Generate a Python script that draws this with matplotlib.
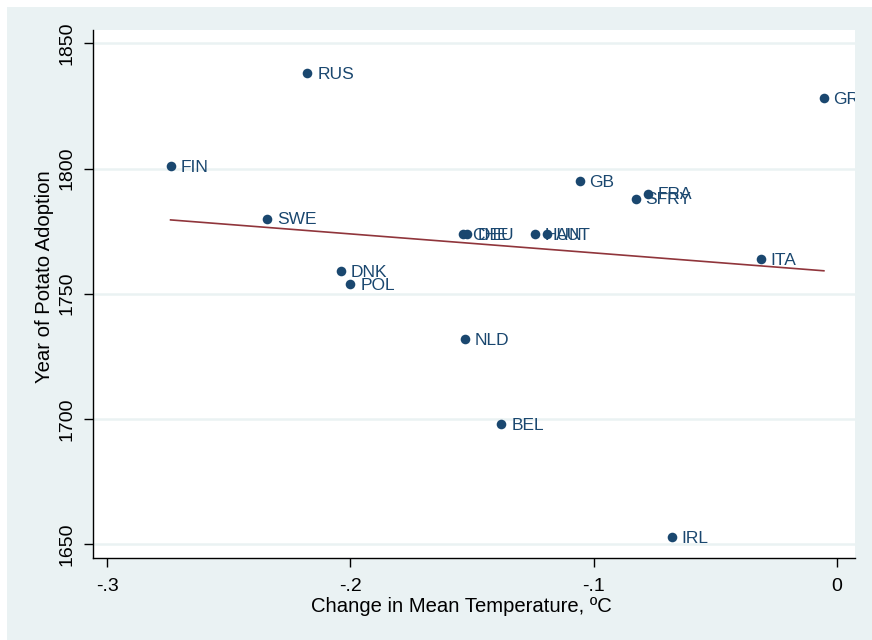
#!/usr/bin/env python3
"""
Potato adoption year vs change in mean temperature, by country.
"""

import numpy as np
import matplotlib
matplotlib.use("Agg")
import matplotlib.pyplot as plt
from matplotlib.patches import Rectangle

countries = ["RUS", "GRC", "FIN", "GB", "FRA", "SFRY", "SWE", "CHE", "DEU",
             "HUN", "AUT", "ITA", "DNK", "POL", "NLD", "BEL", "IRL"]
temp_change = [-0.2177, -0.0053, -0.2740, -0.1058, -0.0778, -0.0827, -0.2342,
               -0.1539, -0.1519, -0.1243, -0.1193, -0.0313, -0.2041, -0.2000,
               -0.1531, -0.1379, -0.0679]
adoption_year = [1838, 1828, 1801, 1795, 1790, 1788, 1780, 1774, 1774,
                 1774, 1774, 1764, 1759, 1754, 1732, 1698, 1653]

x_ticks = [-0.3, -0.2, -0.1, 0]
x_ticklabels = ["-.3", "-.2", "-.1", "0"]
y_ticks = [1650, 1700, 1750, 1800, 1850]

bg = "#EAF2F3"
navy = "#1A476F"
maroon = "#90353B"

plt.rcParams["font.family"] = ["Liberation Sans", "DejaVu Sans"]

W, H = 872, 640
fig = plt.figure(figsize=(W / 100, H / 100), dpi=100, facecolor="white")
fig.patches.append(Rectangle((7 / W, 0), 1, (H - 7) / H, transform=fig.transFigure,
                             facecolor=bg, edgecolor="none", zorder=-1))

ax = fig.add_axes([93 / W, (H - 558) / H, (855 - 93) / W, (558 - 30) / H])
ax.set_facecolor("white")

x = np.array(temp_change)
y = np.array(adoption_year)

# fitted line
b, a = np.polyfit(x, y, 1)
xs = np.array([x.min(), x.max()])
ax.plot(xs, a + b * xs, color=maroon, lw=1.2, zorder=2)

# scatter with labels
ax.scatter(x, y, s=48, color=navy, zorder=3, linewidths=0)
for name, xi, yi in zip(countries, x, y):
    ax.annotate(name, (xi, yi), xytext=(7, -1), textcoords="offset points",
                va="center", ha="left", fontsize=12.5, color=navy,
                annotation_clip=False, clip_on=True, zorder=4)

ax.set_xlim(-0.3059, 0.0075)
ax.set_ylim(1644.5, 1855.3)
ax.set_xticks(x_ticks)
ax.set_xticklabels(x_ticklabels)
ax.set_yticks(y_ticks)
ax.set_yticklabels([str(v) for v in y_ticks], rotation=90, va="center")
ax.tick_params(axis="both", length=6.5, width=1, color="black", labelsize=14)
ax.tick_params(axis="x", pad=8)
ax.tick_params(axis="y", pad=6)

ax.grid(axis="y", color=bg, lw=1.8, zorder=0)
ax.set_axisbelow(True)
for side in ["top", "right"]:
    ax.spines[side].set_visible(False)
for side in ["left", "bottom"]:
    ax.spines[side].set_linewidth(1)

fig.text(461.5 / W, (H - 607) / H, "Change in Mean Temperature, ºC",
         ha="center", va="center", fontsize=14.6)
fig.text(45 / W, (H - 277) / H, "Year of Potato Adoption", rotation=90,
         ha="center", va="center", fontsize=14.6)

fig.savefig("out.png", dpi=100, facecolor=fig.get_facecolor())
